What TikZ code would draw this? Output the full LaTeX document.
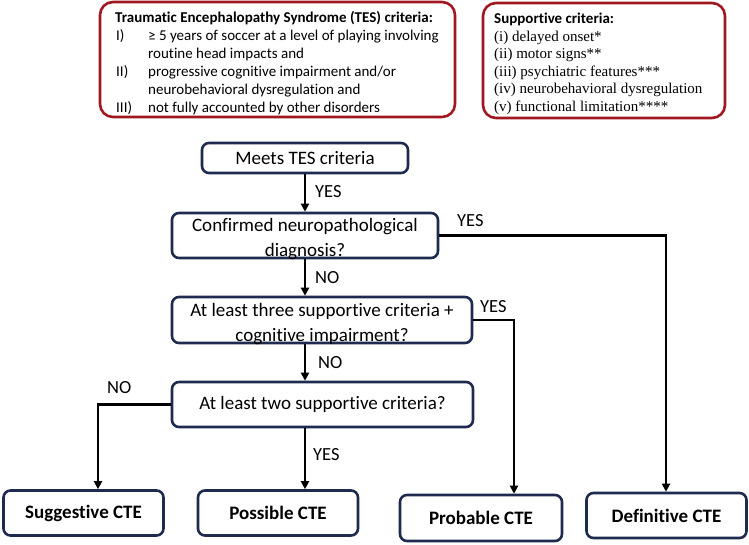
\documentclass[tikz,border=0pt]{standalone}
\usepackage{fontspec}
\setmainfont{Carlito}[Ligatures={NoCommon}]
\newfontfamily\serifx{Liberation Serif}
\usetikzlibrary{arrows.meta}
\definecolor{boxred}{HTML}{A0171F}
\definecolor{boxnavy}{HTML}{1F2A4F}
\tikzset{
  x=1pt, y=-1pt,
  critbox/.style={draw=boxred, line width=2.6pt, rounded corners=13pt, fill=white, inner sep=0pt},
  flowbox/.style={draw=boxnavy, line width=2.6pt, rounded corners=7pt, fill=white, inner sep=0pt, align=center, font=\fontsize{19}{25}\selectfont},
  flowtext/.style={inner sep=0pt, align=center, font=\fontsize{19}{25}\selectfont},
  endbox/.style={flowbox, font=\fontsize{19}{25}\selectfont\bfseries},
  conn/.style={line width=2.4pt, black},
  arr/.style={conn, -{Triangle[length=8pt,width=8pt]}},
  lbl/.style={font=\fontsize{18.5}{22}\selectfont, anchor=west, inner sep=0pt},
  tesline/.style={font=\fontsize{15}{18}\selectfont, anchor=base west, inner sep=0pt},
  supline/.style={font=\serifx\fontsize{15}{18}\selectfont, anchor=base west, inner sep=0pt}
}
\begin{document}
\begin{tikzpicture}
\useasboundingbox (0,0) rectangle (749,544);
% criteria boxes
\node[critbox, minimum width=355pt, minimum height=115pt] (tes) at (277.5,59.5) {};
\node[tesline, font=\fontsize{15}{18}\selectfont\bfseries] (tes0) at (115,22) {Traumatic Encephalopathy Syndrome (TES) criteria:};
\node[tesline] (tes1a) at (116,40) {I)};
\node[tesline] (tes1b) at (148,40) {≥ 5 years of soccer at a level of playing involving};
\node[tesline] (tes1c) at (148,58) {routine head impacts and};
\node[tesline] (tes2a) at (116,76) {II)};
\node[tesline] (tes2b) at (148,76) {progressive cognitive impairment and/or};
\node[tesline] (tes2c) at (148,94) {neurobehavioral dysregulation and};
\node[tesline] (tes3a) at (116,112) {III)};
\node[tesline] (tes3b) at (148,112) {not fully accounted by other disorders};

\node[critbox, minimum width=242pt, minimum height=115pt] (sup) at (604,60.5) {};
\node[tesline, font=\fontsize{15}{18}\selectfont\bfseries] (sup0) at (494,23) {Supportive criteria:};
\node[supline] (sup1) at (494,41) {(i) delayed onset*};
\node[supline] (sup2) at (494,58.5) {(ii) motor signs**};
\node[supline] (sup3) at (494,76) {(iii) psychiatric features***};
\node[supline] (sup4) at (494,93) {(iv) neurobehavioral dysregulation};
\node[supline] (sup5) at (494,111) {(v) functional limitation****};

% flow boxes
\node[flowbox, minimum width=206pt, minimum height=30pt] (meets) at (305,158) {Meets TES criteria};
\node[flowbox, minimum width=266pt, minimum height=45pt] (conf) at (305,235.5) {};
\node[flowtext, yshift=-4pt] (conftxt) at (conf.center) {Confirmed neuropathological\\diagnosis?};
\node[flowbox, minimum width=300pt, minimum height=46pt] (three) at (322,320) {};
\node[flowtext, yshift=-4pt] (threetxt) at (three.center) {At least three supportive criteria +\\cognitive impairment?};
\node[flowbox, minimum width=301pt, minimum height=45pt] (two) at (322.5,404.5) {At least two supportive criteria?};
\node[endbox, minimum width=160pt, minimum height=45pt] (sugg) at (83.5,513) {Suggestive CTE};
\node[endbox, minimum width=160pt, minimum height=45pt] (poss) at (278,513) {Possible CTE};
\node[endbox, minimum width=162pt, minimum height=46pt] (prob) at (481,518) {Probable CTE};
\node[endbox, minimum width=160pt, minimum height=45pt] (defi) at (666.5,515.5) {Definitive CTE};

% helper coordinates
\coordinate (cx) at (305,0);
\coordinate (defx) at (666,0);
\coordinate (probx) at (514,0);
\coordinate (suggx) at (98,0);

% connectors
\draw[arr] (meets.south) -- (conf.north);
\draw[arr] (conf.south) -- (conf.south |- three.north);
\draw[arr] (cx |- three.south) -- (cx |- two.north);
\draw[arr] (cx |- two.south) -- (cx |- poss.north);
\draw[arr] (conf.east) -- (defx |- conf.east) -- (defx |- defi.north);
\draw[arr] (three.east) -- (probx |- three.east) -- (probx |- prob.north);
\draw[arr] (two.west) -- (suggx |- two.west) -- (suggx |- sugg.north);

% labels
\node[lbl] (l1) at (315,192) {YES};
\node[lbl] (l2) at (457,221) {YES};
\node[lbl] (l3) at (315,278) {NO};
\node[lbl] (l4) at (480,307) {YES};
\node[lbl] (l5) at (318,363) {NO};
\node[lbl] (l6) at (107,388) {NO};
\node[lbl] (l7) at (313,455) {YES};
\end{tikzpicture}
\end{document}
